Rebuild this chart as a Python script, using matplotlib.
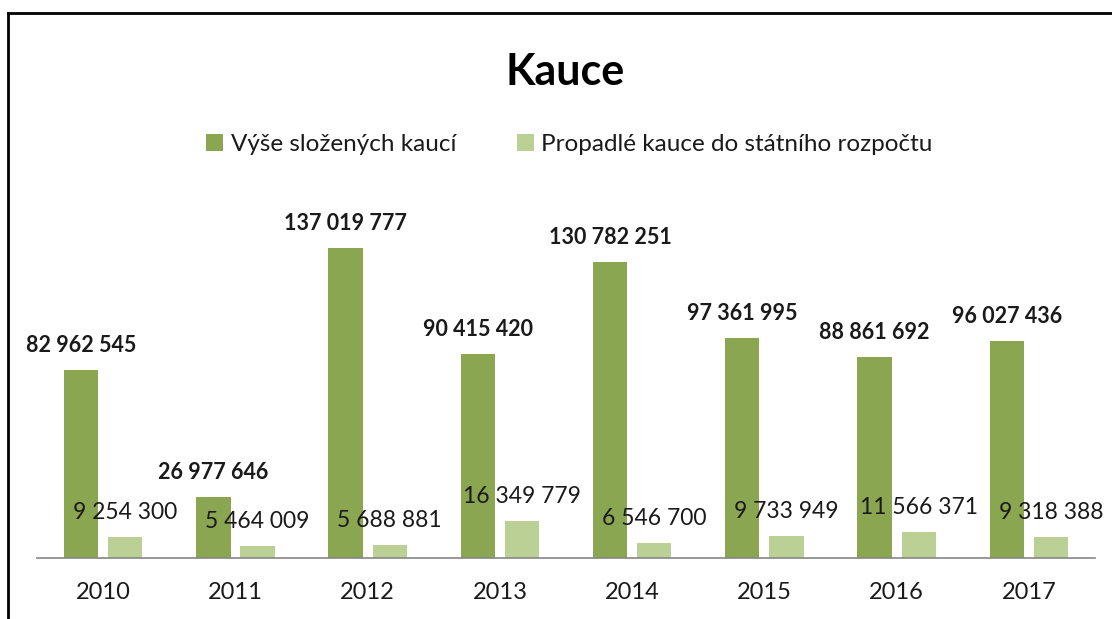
import matplotlib
matplotlib.use('Agg')
import matplotlib.pyplot as plt
from matplotlib.lines import Line2D
import numpy as np

plt.rcParams['font.family'] = ['Lato', 'DejaVu Sans']

# data
roky = ['2010', '2011', '2012', '2013', '2014', '2015', '2016', '2017']
slozene = [82962545, 26977646, 137019777, 90415420, 130782251, 97361995, 88861692, 96027436]
propadle = [9254300, 5464009, 5688881, 16349779, 6546700, 9733949, 11566371, 9318388]
nazvy = ['Výše složených kaucí', 'Propadlé kauce do státního rozpočtu']

c_tmava = '#8ba650'
c_svetla = '#bad095'


def fmt(v):
    # mezery jako oddelovac tisicu
    return f'{v:,}'.replace(',', ' ')


fig = plt.figure(figsize=(11.12, 6.19), dpi=100)
ax = fig.add_axes([0.0333, 0.0985, 0.9514, 0.5845])

x = np.arange(len(roky))
w = 0.26
b1 = ax.bar(x - 0.167, slozene, w, color=c_tmava, label=nazvy[0])
b2 = ax.bar(x + 0.167, propadle, w, color=c_svetla, label=nazvy[1])

for r, v in zip(b1, slozene):
    ax.annotate(fmt(v), (r.get_x() + r.get_width() / 2, v), xytext=(0, 18),
                textcoords='offset pixels', ha='center', va='baseline',
                fontsize=15.5, fontweight='bold', color='#1a1a1a')
for r, v in zip(b2, propadle):
    ax.annotate(fmt(v), (r.get_x() + r.get_width() / 2, v), xytext=(0, 18),
                textcoords='offset pixels', ha='center', va='baseline',
                fontsize=16.5, color='#1a1a1a')

ax.set_xlim(-0.5, 7.5)
ax.set_ylim(0, 160e6)
ax.set_xticks(x)
ax.set_xticklabels(roky, fontsize=17, color='#1a1a1a')
ax.tick_params(axis='x', length=0, pad=17)
ax.set_yticks([])
for s in ['top', 'right', 'left']:
    ax.spines[s].set_visible(False)
ax.spines['bottom'].set_color('#868686')
ax.spines['bottom'].set_linewidth(1.2)

fig.text(0.508, 0.884, 'Kauce', ha='center', va='center', fontsize=31, fontweight='bold')

fig.legend(loc='center', bbox_to_anchor=(0.512, 0.766), ncol=2, frameon=False,
           fontsize=17.5, handlelength=0.7, handleheight=0.7, handletextpad=0.3,
           columnspacing=2.5, labelcolor='#1a1a1a')

# ramecek
fig.add_artist(Line2D([8 / 1112, 8 / 1112], [0, 1 - 13 / 619], color='black', lw=2,
                      transform=fig.transFigure))
fig.add_artist(Line2D([8 / 1112, 1], [1 - 13 / 619, 1 - 13 / 619], color='black', lw=2,
                      transform=fig.transFigure))

fig.savefig('out.png', dpi=100)
